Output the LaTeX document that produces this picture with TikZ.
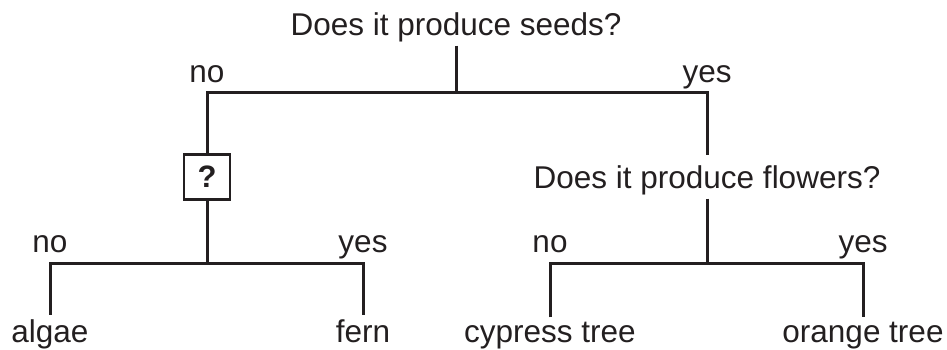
\documentclass[tikz,border=0pt]{standalone}
\usepackage{fontspec}
\setmainfont{Liberation Sans}
\definecolor{ink}{HTML}{231F20}
\begin{document}
\begin{tikzpicture}[x=1pt,y=-1pt,
  txt/.style={font=\fontsize{31.5}{36}\selectfont, text=ink, inner sep=4pt, anchor=base},
  lbl/.style={font=\fontsize{31.5}{36}\selectfont, text=ink, inner sep=0pt, anchor=base},
  conn/.style={draw=ink, line width=3pt},
  qbox/.style={draw=ink, line width=2.8pt, minimum width=46pt, minimum height=45pt, inner sep=0pt,
    font=\fontsize{31}{36}\selectfont\bfseries, text=ink}]
\useasboundingbox (0,0) rectangle (947,349);
% questions
\node[txt] (q1) at (456,35) {Does it produce seeds?};
\node[txt] (q2) at (707,188) {Does it produce flowers?};
\node[qbox] (qm) at (207,177) {?};
% junctions
\coordinate (j1) at (456,92);
\coordinate (c1l) at (207,92);
\coordinate (c1r) at (707,92);
\coordinate (j2) at (207,263);
\coordinate (c2l) at (50,263);
\coordinate (c2r) at (363,263);
\coordinate (j3) at (707,263);
\coordinate (c3l) at (550,263);
\coordinate (c3r) at (863,263);
% leaves
\node[txt] (algae) at (50,342) {algae};
\node[txt] (fern) at (363,342) {fern};
\node[txt] (cypress) at (550,342) {cypress tree};
\node[txt] (orange) at (863,342) {orange tree};
% branch labels
\node[lbl] (n1) at (207,82) {no};
\node[lbl] (y1) at (707,82) {yes};
\node[lbl] (n2) at (50,252) {no};
\node[lbl] (y2) at (363,252) {yes};
\node[lbl] (n3) at (550,252) {no};
\node[lbl] (y3) at (863,252) {yes};
% connectors
\draw[conn] (q1.south) -- (j1);
\draw[conn, line cap=rect] (c1l) -- (c1r);
\draw[conn] (c1l) -- (qm.north);
\draw[conn] (c1r) -- ([yshift=6pt]q2.north);
\draw[conn] (qm.south) -- (j2);
\draw[conn] (q2.south) -- (j3);
\draw[conn] (algae.north) |- (c2l) -- (c2r) -- (fern.north);
\draw[conn] (cypress.north) |- (c3l) -- (c3r) -- (orange.north);
\end{tikzpicture}
\end{document}
